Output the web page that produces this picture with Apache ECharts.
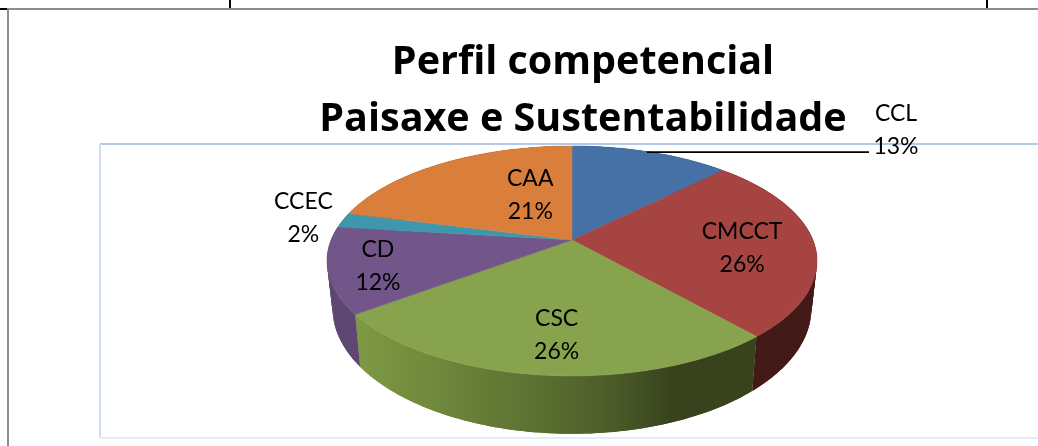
<!DOCTYPE html>
<html>
<head>
<meta charset="utf-8">
<style>
  html, body { margin: 0; padding: 0; background: #fff; }
  #chart { width: 1038px; height: 446px; }
</style>
<script src="https://cdn.jsdelivr.net/npm/echarts@6/dist/echarts.min.js"></script>
</head>
<body>
<div id="chart"></div>
<script>
const titleLines = ['Perfil competencial', 'Paisaxe e Sustentabilidade'];
const categories = ['CCL', 'CMCCT', 'CSC', 'CD', 'CCEC', 'CAA'];
const shares = [12.5, 26, 26.3, 12.1, 2.1, 21];

const topColors = ['#4571A6', '#A64442', '#88A34D', '#725689', '#3F97AE', '#D97F3B'];
const wallColors = ['#2A4465', '#431A18', null, '#5F4774', '#256070', '#8A5026'];
// moved off the slice by hand in the original, so kept as offsets
const labelOffsets = [[270, -50], [13, 6], [3, 14], [-38, 7], [-118, -9], [46, 7]];

const total = shares.reduce((a, b) => a + b, 0);

// tilted disc: the apex sits above the middle of the ellipse
const tilt = -0.1826;
function project(r, angle) {
  const u = r * Math.sin(angle);
  const v = -r * Math.cos(angle);
  const den = 1 + tilt * v;
  return [572 + 240.9 * u / den, (67.3 * v + 240) / den];
}
function projectBase(r, angle) {
  const p = project(r, angle);
  return [572 + 0.977 * (p[0] - 572), 1.09 * p[1] + 24];
}
function sliceAngles(i) {
  let before = 0;
  for (let k = 0; k < i; k++) before += shares[k];
  return [before / total * Math.PI * 2, (before + shares[i]) / total * Math.PI * 2];
}
function arc(fn, a0, a1) {
  const steps = Math.max(4, Math.ceil((a1 - a0) / 0.02));
  const pts = [];
  for (let s = 0; s <= steps; s++) pts.push(fn(1, a0 + (a1 - a0) * s / steps));
  return pts;
}

function wallFill(i) {
  if (i !== 2) return wallColors[i];
  return {
    type: 'linear', x: 360, y: 0, x2: 751, y2: 0, global: true,
    colorStops: [
      { offset: 0, color: '#7E9943' },
      { offset: 0.35, color: '#637A35' },
      { offset: 0.62, color: '#4E5F2A' },
      { offset: 0.8, color: '#38431D' },
      { offset: 1, color: '#38431D' }
    ]
  };
}

// the top and base arcs cross near the sides, so the wall is built from quads.
// each quad spans two steps so the seams stay covered
function renderWall(params) {
  const i = params.dataIndex;
  const [a0, a1] = sliceAngles(i);
  const top = arc(project, a0, a1);
  const base = arc(projectBase, a0, a1);
  const fill = wallFill(i);
  const quads = [];
  for (let s = 0; s < top.length - 1; s++) {
    const e = Math.min(s + 2, top.length - 1);
    quads.push({
      type: 'polygon',
      shape: { points: [top[s], top[s + 1], top[e], base[e], base[s + 1], base[s]] },
      style: { fill: fill }
    });
  }
  return { type: 'group', children: quads };
}

function renderTop(params) {
  const i = params.dataIndex;
  const [a0, a1] = sliceAngles(i);
  const mid = (a0 + a1) / 2;
  const pts = [project(0, 0)].concat(arc(project, a0, a1));
  const anchor = project(0.65, mid);
  const lx = anchor[0] + labelOffsets[i][0];
  const ly = anchor[1] + labelOffsets[i][1];
  const children = [{
    type: 'polygon',
    shape: { points: pts },
    style: { fill: topColors[i], stroke: topColors[i], lineWidth: 0.5 }
  }];
  // only the outside label gets a leader line
  if (i === 0) {
    const rim = project(1, mid);
    children.push({
      type: 'line',
      shape: { x1: rim[0] - 4, y1: rim[1], x2: lx - 27, y2: rim[1] },
      style: { stroke: '#000', lineWidth: 1.7 },
      z2: 5
    });
  }
  children.push({
    type: 'text',
    z2: 10,
    style: {
      text: categories[i] + '\n' + Math.round(shares[i] / total * 100) + '%',
      x: lx,
      y: ly,
      align: 'center',
      verticalAlign: 'middle',
      fontFamily: 'Lato',
      fontSize: 23,
      lineHeight: 33,
      fill: '#000'
    }
  });
  return { type: 'group', children: children };
}

const chart = echarts.init(document.getElementById('chart'), null, { renderer: 'canvas' });
chart.setOption({
  animation: false,
  backgroundColor: '#fff',
  title: {
    text: titleLines.join('\n'),
    left: 578,
    top: 29,
    textAlign: 'center',
    textStyle: {
      fontFamily: 'Open Sans',
      fontWeight: 'bold',
      fontSize: 39.5,
      lineHeight: 57,
      color: '#000'
    }
  },
  graphic: [
    { type: 'line', shape: { x1: 7, y1: 9, x2: 1038, y2: 9 }, style: { stroke: '#8C8C8C', lineWidth: 2 } },
    { type: 'line', shape: { x1: 8, y1: 9, x2: 8, y2: 446 }, style: { stroke: '#8C8C8C', lineWidth: 2 } },
    { type: 'line', shape: { x1: 0, y1: 9, x2: 7, y2: 9 }, style: { stroke: '#000', lineWidth: 2 } },
    { type: 'line', shape: { x1: 230, y1: 0, x2: 230, y2: 8 }, style: { stroke: '#000', lineWidth: 2 } },
    { type: 'line', shape: { x1: 987, y1: 0, x2: 987, y2: 8 }, style: { stroke: '#000', lineWidth: 2 } },
    { type: 'line', shape: { x1: 100, y1: 144, x2: 1038, y2: 144 }, style: { stroke: '#B4C8E8', lineWidth: 2 } },
    { type: 'line', shape: { x1: 100, y1: 144, x2: 100, y2: 438 }, style: { stroke: '#D0DDF3', lineWidth: 2 } },
    { type: 'line', shape: { x1: 100, y1: 438, x2: 1038, y2: 438 }, style: { stroke: '#E4ECF8', lineWidth: 2 } }
  ],
  series: [
    { type: 'custom', coordinateSystem: 'none', z: 2, renderItem: renderWall, data: shares, silent: true },
    { type: 'custom', coordinateSystem: 'none', z: 3, renderItem: renderTop, data: shares, silent: true }
  ]
});
</script>
</body>
</html>
